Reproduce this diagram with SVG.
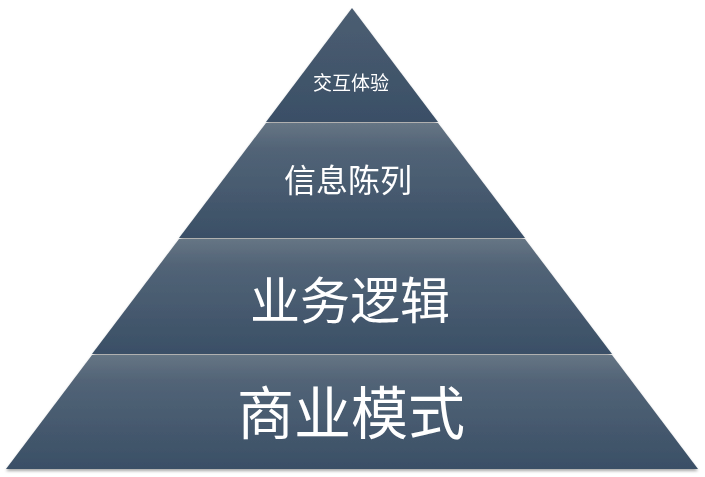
<svg xmlns="http://www.w3.org/2000/svg" width="705" height="477" viewBox="0 0 705 477">
<defs>
<linearGradient id="g" x1="0" y1="0" x2="0" y2="1">
<stop offset="0" stop-color="#667584"/>
<stop offset="0.22" stop-color="#526477"/>
<stop offset="1" stop-color="#3a4f66"/>
</linearGradient>
<linearGradient id="gt" x1="0" y1="0" x2="0" y2="1">
<stop offset="0" stop-color="#4c5e72"/>
<stop offset="1" stop-color="#3a4f66"/>
</linearGradient>
<filter id="sh" x="-5%" y="-5%" width="110%" height="115%">
<feGaussianBlur in="SourceAlpha" stdDeviation="1.5"/>
<feOffset dy="1.5"/>
<feComponentTransfer><feFuncA type="linear" slope="0.35"/></feComponentTransfer>
<feMerge><feMergeNode/><feMergeNode in="SourceGraphic"/></feMerge>
</filter>
</defs>
<style>
text{font-family:"Noto Sans CJK SC","Noto Sans",sans-serif;fill:#ffffff;text-anchor:middle;dominant-baseline:central}
</style>
<rect width="705" height="477" fill="#ffffff"/>
<g filter="url(#sh)">
<g id="layer1">
<polygon points="352,8 438,122 266,122" fill="url(#gt)"/>
<text x="351" y="81" font-size="19">交互体验</text>
</g>
<g id="layer2">
<polygon points="266,123 438,123 525,238 179,238" fill="url(#g)"/>
<text x="348" y="178" font-size="32">信息陈列</text>
</g>
<g id="layer3">
<polygon points="179,239 525,239 612,354 92,354" fill="url(#g)"/>
<text x="350" y="297" font-size="50">业务逻辑</text>
</g>
<g id="layer4">
<polygon points="92,355 612,355 698,469 6,469" fill="url(#g)"/>
<text x="351" y="409" font-size="57">商业模式</text>
</g>
</g>
</svg>
